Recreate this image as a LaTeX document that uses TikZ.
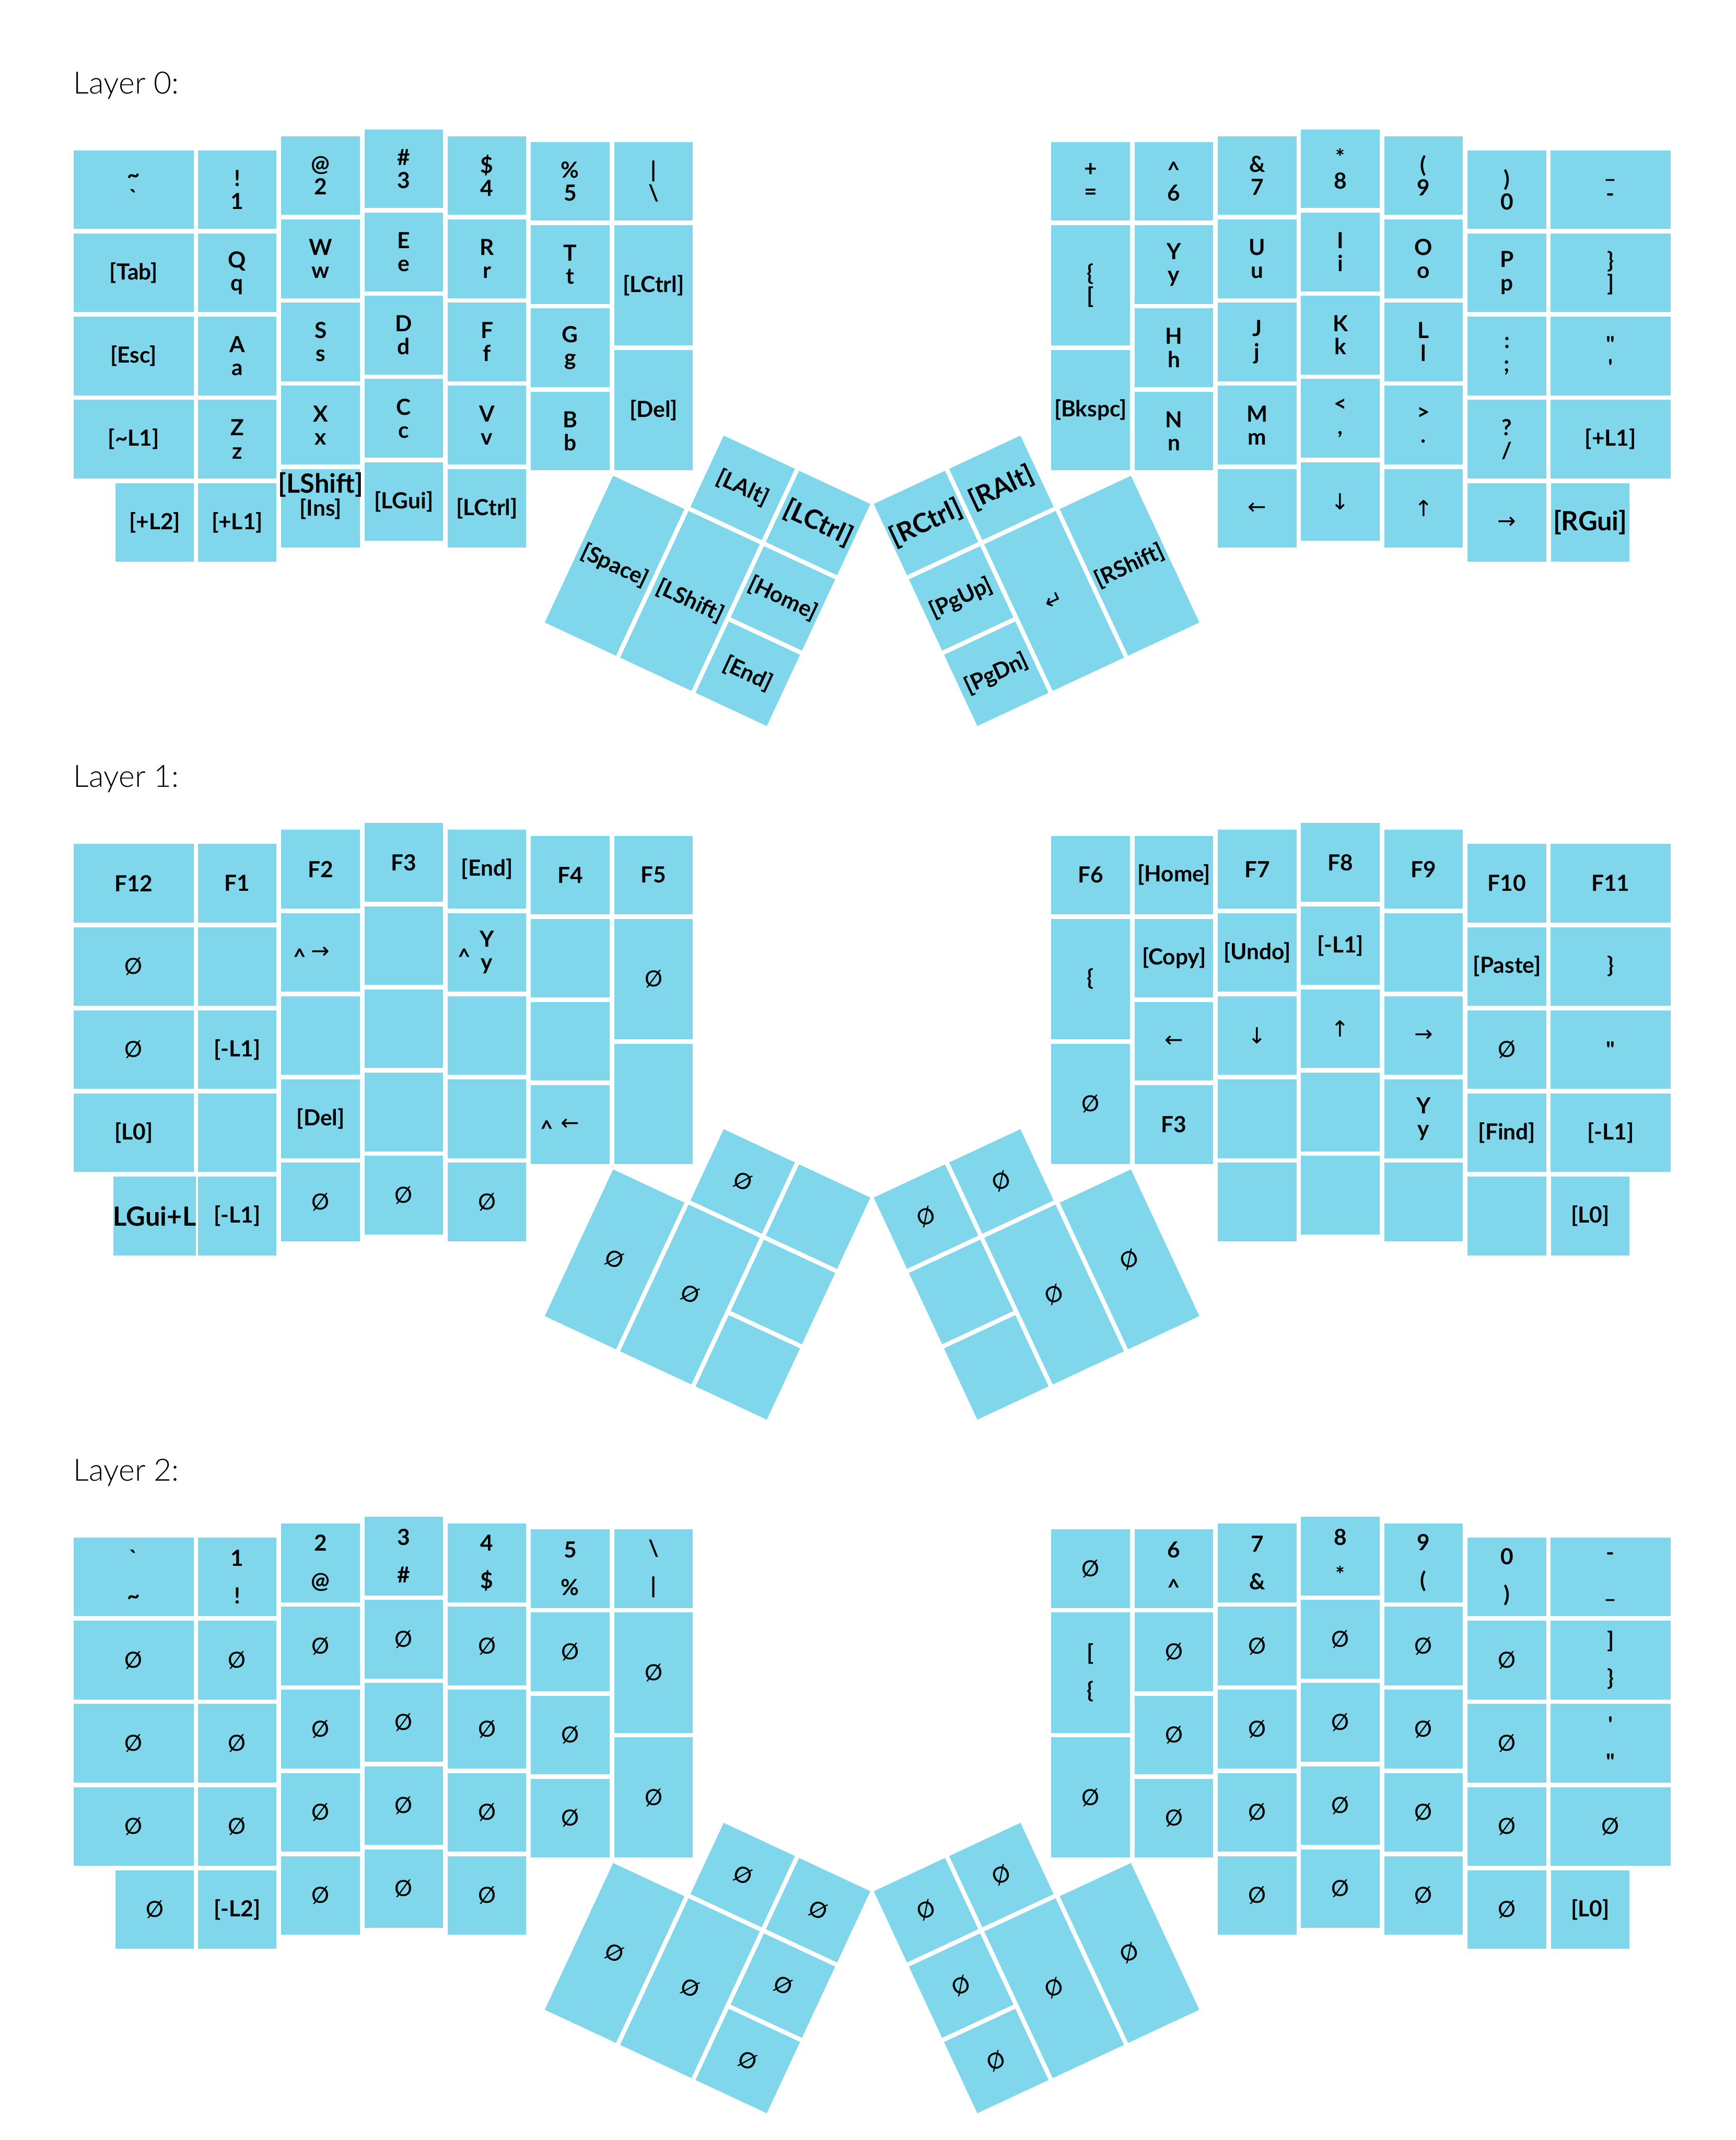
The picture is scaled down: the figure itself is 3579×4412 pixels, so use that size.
\documentclass[tikz,border=0pt]{standalone}
\usepackage{fontspec}
\setmainfont{Lato}
\newfontfamily\arrowfont{DejaVu Sans}
\IfFontExistsTF{Lato Light}{\newfontfamily\headfont{Lato Light}}{\newfontfamily\headfont{Lato}}
\definecolor{keyblue}{RGB}{128,214,234}

\newcommand{\keyfont}{\bfseries\fontsize{13}{13.5}\selectfont}
\newcommand{\bigtxt}{\fontsize{15.5}{16}\selectfont}
\newcommand{\arw}[1]{{\arrowfont\mdseries #1}}
\newcommand{\nokey}{{\mdseries Ø}}

% column centres of the left half and column tops (px)
\def\colx{{275.5,489,661,832.5,1004,1175.5,1347.5}}
\def\coltop{{310,310,281,267,281,293,293}}

% key of the left half: [style]{name}{column}{row}{label}
\newcommand{\keyL}[5][]{%
  \pgfmathsetmacro{\kx}{\colx[#3]}%
  \pgfmathsetmacro{\ky}{\coltop[#3]+#4*171.5+81}%
  \node[kbkey,#1] (#2) at (\kx,\ky) {#5};}
% key of the right half (mirror of the left one)
\newcommand{\keyR}[5][]{%
  \pgfmathsetmacro{\kx}{3596-\colx[6-#3]}%
  \pgfmathsetmacro{\ky}{\coltop[6-#3]+#4*171.5+81}%
  \node[kbkey,#1] (#2) at (\kx,\ky) {#5};}

% thumb clusters, drawn in the rotated frame
\newcommand{\thumbL}[7]{%
  \node[kbkey] (#1alt) at (257.25,85.75) {#2};
  \node[kbkey] (#1ctrl) at (428.75,85.75) {#3};
  \node[kbkey,twou] (#1space) at (85.75,343) {#4};
  \node[kbkey,twou] (#1shift) at (257.25,343) {#5};
  \node[kbkey] (#1home) at (428.75,257.25) {#6};
  \node[kbkey] (#1end) at (428.75,428.75) {#7};}
\newcommand{\thumbR}[7]{%
  \node[kbkey] (#1alt) at (-257.25,85.75) {#2};
  \node[kbkey] (#1ctrl) at (-428.75,85.75) {#3};
  \node[kbkey,twou] (#1shift) at (-85.75,343) {#4};
  \node[kbkey,twou] (#1enter) at (-257.25,343) {#5};
  \node[kbkey] (#1pgup) at (-428.75,257.25) {#6};
  \node[kbkey] (#1pgdn) at (-428.75,428.75) {#7};}

\begin{document}
\begin{tikzpicture}[x=0.01cm, y=-0.01cm,
    kbkey/.style={fill=keyblue, inner sep=0pt, minimum width=1.62cm, minimum height=1.62cm, align=center, font=\keyfont},
    wideu/.style={minimum width=2.4775cm},
    tallu/.style={minimum height=2.4775cm},
    twou/.style={minimum height=3.335cm},
    loose/.style={font=\bfseries\fontsize{13}{22}\selectfont},
    kbtext/.style={inner sep=0pt, align=center, font=\keyfont},
    caret/.style={anchor=base west, inner sep=0pt, font=\keyfont},
    head/.style={anchor=base west, inner sep=0pt, font=\headfont\fontsize{18}{20}\selectfont}]

  % 0. page
  \fill[white] (0,0) rectangle (3579,4412);
  \useasboundingbox (0,0) rectangle (3579,4412);

  % 1. Layer 0
  \node[head] (head0) at (151,193) {Layer 0:};
  % left half
  \keyL[wideu]{k0L00}{0}{0}{\textasciitilde\\\textasciigrave}
  \keyL[wideu]{k0L01}{0}{1}{[Tab]}
  \keyL[wideu]{k0L02}{0}{2}{[Esc]}
  \keyL[wideu]{k0L03}{0}{3}{[\textasciitilde L1]}
  \keyL[xshift=-1.7cm]{k0L04}{1}{4}{[+L2]}
  \keyL{k0L10}{1}{0}{!\\1}
  \keyL{k0L11}{1}{1}{Q\\q}
  \keyL{k0L12}{1}{2}{A\\a}
  \keyL{k0L13}{1}{3}{Z\\z}
  \keyL{k0L14}{1}{4}{[+L1]}
  \keyL{k0L20}{2}{0}{@\\2}
  \keyL{k0L21}{2}{1}{W\\w}
  \keyL{k0L22}{2}{2}{S\\s}
  \keyL{k0L23}{2}{3}{X\\x}
  \keyL{k0L24}{2}{4}{}
  \node[kbtext] (t0Lins) at ([yshift=0.26cm]k0L24.center) {{\bigtxt [LShift]}\\{}[Ins]};
  \keyL{k0L30}{3}{0}{\#\\3}
  \keyL{k0L31}{3}{1}{E\\e}
  \keyL{k0L32}{3}{2}{D\\d}
  \keyL{k0L33}{3}{3}{C\\c}
  \keyL{k0L34}{3}{4}{[LGui]}
  \keyL{k0L40}{4}{0}{\$\\4}
  \keyL{k0L41}{4}{1}{R\\r}
  \keyL{k0L42}{4}{2}{F\\f}
  \keyL{k0L43}{4}{3}{V\\v}
  \keyL{k0L44}{4}{4}{[LCtrl]}
  \keyL{k0L50}{5}{0}{\%\\5}
  \keyL{k0L51}{5}{1}{T\\t}
  \keyL{k0L52}{5}{2}{G\\g}
  \keyL{k0L53}{5}{3}{B\\b}
  \keyL{k0L60}{6}{0}{\textbar\\\textbackslash}
  \keyL[tallu]{k0L61}{6}{1.25}{[LCtrl]}
  \keyL[tallu]{k0L62}{6}{2.75}{[Del]}
  % right half
  \keyR{k0R00}{0}{0}{+\\=}
  \keyR[tallu]{k0R01}{0}{1.25}{\{\\{}[}
  \keyR[tallu]{k0R02}{0}{2.75}{[Bkspc]}
  \keyR{k0R10}{1}{0}{\textasciicircum\\6}
  \keyR{k0R11}{1}{1}{Y\\y}
  \keyR{k0R12}{1}{2}{H\\h}
  \keyR{k0R13}{1}{3}{N\\n}
  \keyR{k0R20}{2}{0}{\&\\7}
  \keyR{k0R21}{2}{1}{U\\u}
  \keyR{k0R22}{2}{2}{J\\j}
  \keyR{k0R23}{2}{3}{M\\m}
  \keyR{k0R24}{2}{4}{\arw{←}}
  \keyR{k0R30}{3}{0}{*\\8}
  \keyR{k0R31}{3}{1}{I\\i}
  \keyR{k0R32}{3}{2}{K\\k}
  \keyR{k0R33}{3}{3}{\textless\\,}
  \keyR{k0R34}{3}{4}{\arw{↓}}
  \keyR{k0R40}{4}{0}{(\\9}
  \keyR{k0R41}{4}{1}{O\\o}
  \keyR{k0R42}{4}{2}{L\\l}
  \keyR{k0R43}{4}{3}{\textgreater\\.}
  \keyR{k0R44}{4}{4}{\arw{↑}}
  \keyR{k0R50}{5}{0}{)\\0}
  \keyR{k0R51}{5}{1}{P\\p}
  \keyR{k0R52}{5}{2}{:\\;}
  \keyR{k0R53}{5}{3}{?\\/}
  \keyR{k0R54}{5}{4}{\arw{→}}
  \keyR[wideu]{k0R60}{6}{0}{\_\\-}
  \keyR[wideu]{k0R61}{6}{1}{\}\\]}
  \keyR[wideu]{k0R62}{6}{2}{\textquotedbl\\\textquotesingle}
  \keyR[wideu]{k0R63}{6}{3}{[+L1]}
  \keyR[xshift=1.715cm]{k0R64}{5}{4}{{\bigtxt [RGui]}}
  % thumbs
  \begin{scope}[shift={(1334.4,819.3)}, rotate=-25, transform shape]
    \thumbL{t0L}{[LAlt]}{{\bigtxt [LCtrl]}}{[Space]}{[LShift]}{[Home]}{[End]}
  \end{scope}
  \begin{scope}[shift={(2261.6,819.3)}, rotate=25, transform shape]
    \thumbR{t0R}{{\bigtxt [RAlt]}}{{\bigtxt [RCtrl]}}{[RShift]}{\arw{↵}}{[PgUp]}{[PgDn]}
  \end{scope}

  % 2. Layer 1
  \begin{scope}[shift={(0,1430)}]
    \node[head] (head1) at (151,193) {Layer 1:};
    % left half
    \keyL[wideu]{k1L00}{0}{0}{F12}
    \keyL[wideu]{k1L01}{0}{1}{\nokey}
    \keyL[wideu]{k1L02}{0}{2}{\nokey}
    \keyL[wideu]{k1L03}{0}{3}{[L0]}
    \keyL[xshift=-1.7cm]{k1L04}{1}{4}{{\bigtxt LGui+L}}
    \keyL{k1L10}{1}{0}{F1}
    \keyL{k1L11}{1}{1}{}
    \keyL{k1L12}{1}{2}{[-L1]}
    \keyL{k1L13}{1}{3}{}
    \keyL{k1L14}{1}{4}{[-L1]}
    \keyL{k1L20}{2}{0}{F2}
    \keyL{k1L21}{2}{1}{\arw{→}}
    \keyL{k1L22}{2}{2}{}
    \keyL{k1L23}{2}{3}{[Del]}
    \keyL{k1L24}{2}{4}{\nokey}
    \keyL{k1L30}{3}{0}{F3}
    \keyL{k1L31}{3}{1}{}
    \keyL{k1L32}{3}{2}{}
    \keyL{k1L33}{3}{3}{}
    \keyL{k1L34}{3}{4}{\nokey}
    \keyL{k1L40}{4}{0}{[End]}
    \keyL{k1L41}{4}{1}{Y\\y}
    \keyL{k1L42}{4}{2}{}
    \keyL{k1L43}{4}{3}{}
    \keyL{k1L44}{4}{4}{\nokey}
    \keyL{k1L50}{5}{0}{F4}
    \keyL{k1L51}{5}{1}{}
    \keyL{k1L52}{5}{2}{}
    \keyL{k1L53}{5}{3}{\arw{←}}
    \keyL{k1L60}{6}{0}{F5}
    \keyL[tallu]{k1L61}{6}{1.25}{\nokey}
    \keyL[tallu]{k1L62}{6}{2.75}{}
    % ctrl marks at the left of three keys
    \node[caret] (c1L21) at ([xshift=0.25cm,yshift=-0.25cm]k1L21.west) {\textasciicircum};
    \node[caret] (c1L41) at ([xshift=0.21cm,yshift=-0.25cm]k1L41.west) {\textasciicircum};
    \node[caret] (c1L53) at ([xshift=0.2cm,yshift=-0.25cm]k1L53.west) {\textasciicircum};
    % right half
    \keyR{k1R00}{0}{0}{F6}
    \keyR[tallu]{k1R01}{0}{1.25}{\{}
    \keyR[tallu]{k1R02}{0}{2.75}{\nokey}
    \keyR{k1R10}{1}{0}{[Home]}
    \keyR{k1R11}{1}{1}{[Copy]}
    \keyR{k1R12}{1}{2}{\arw{←}}
    \keyR{k1R13}{1}{3}{F3}
    \keyR{k1R20}{2}{0}{F7}
    \keyR{k1R21}{2}{1}{[Undo]}
    \keyR{k1R22}{2}{2}{\arw{↓}}
    \keyR{k1R23}{2}{3}{}
    \keyR{k1R24}{2}{4}{}
    \keyR{k1R30}{3}{0}{F8}
    \keyR{k1R31}{3}{1}{[-L1]}
    \keyR{k1R32}{3}{2}{\arw{↑}}
    \keyR{k1R33}{3}{3}{}
    \keyR{k1R34}{3}{4}{}
    \keyR{k1R40}{4}{0}{F9}
    \keyR{k1R41}{4}{1}{}
    \keyR{k1R42}{4}{2}{\arw{→}}
    \keyR{k1R43}{4}{3}{Y\\y}
    \keyR{k1R44}{4}{4}{}
    \keyR{k1R50}{5}{0}{F10}
    \keyR{k1R51}{5}{1}{[Paste]}
    \keyR{k1R52}{5}{2}{\nokey}
    \keyR{k1R53}{5}{3}{[Find]}
    \keyR{k1R54}{5}{4}{}
    \keyR[wideu]{k1R60}{6}{0}{F11}
    \keyR[wideu]{k1R61}{6}{1}{\}}
    \keyR[wideu]{k1R62}{6}{2}{\textquotedbl}
    \keyR[wideu]{k1R63}{6}{3}{[-L1]}
    \keyR[xshift=1.715cm]{k1R64}{5}{4}{[L0]}
    % thumbs
    \begin{scope}[shift={(1334.4,819.3)}, rotate=-25, transform shape]
      \thumbL{t1L}{\nokey}{}{\nokey}{\nokey}{}{}
    \end{scope}
    \begin{scope}[shift={(2261.6,819.3)}, rotate=25, transform shape]
      \thumbR{t1R}{\nokey}{\nokey}{\nokey}{\nokey}{}{}
    \end{scope}
  \end{scope}

  % 3. Layer 2
  \begin{scope}[shift={(0,2860)}]
    \node[head] (head2) at (151,193) {Layer 2:};
    % left half
    \keyL[wideu,loose]{k2L00}{0}{0}{\textasciigrave\\\textasciitilde}
    \keyL[wideu]{k2L01}{0}{1}{\nokey}
    \keyL[wideu]{k2L02}{0}{2}{\nokey}
    \keyL[wideu]{k2L03}{0}{3}{\nokey}
    \keyL[xshift=-1.7cm]{k2L04}{1}{4}{\nokey}
    \keyL[loose]{k2L10}{1}{0}{1\\!}
    \keyL{k2L11}{1}{1}{\nokey}
    \keyL{k2L12}{1}{2}{\nokey}
    \keyL{k2L13}{1}{3}{\nokey}
    \keyL{k2L14}{1}{4}{[-L2]}
    \keyL[loose]{k2L20}{2}{0}{2\\@}
    \keyL{k2L21}{2}{1}{\nokey}
    \keyL{k2L22}{2}{2}{\nokey}
    \keyL{k2L23}{2}{3}{\nokey}
    \keyL{k2L24}{2}{4}{\nokey}
    \keyL[loose]{k2L30}{3}{0}{3\\\#}
    \keyL{k2L31}{3}{1}{\nokey}
    \keyL{k2L32}{3}{2}{\nokey}
    \keyL{k2L33}{3}{3}{\nokey}
    \keyL{k2L34}{3}{4}{\nokey}
    \keyL[loose]{k2L40}{4}{0}{4\\\$}
    \keyL{k2L41}{4}{1}{\nokey}
    \keyL{k2L42}{4}{2}{\nokey}
    \keyL{k2L43}{4}{3}{\nokey}
    \keyL{k2L44}{4}{4}{\nokey}
    \keyL[loose]{k2L50}{5}{0}{5\\\%}
    \keyL{k2L51}{5}{1}{\nokey}
    \keyL{k2L52}{5}{2}{\nokey}
    \keyL{k2L53}{5}{3}{\nokey}
    \keyL[loose]{k2L60}{6}{0}{\textbackslash\\\textbar}
    \keyL[tallu]{k2L61}{6}{1.25}{\nokey}
    \keyL[tallu]{k2L62}{6}{2.75}{\nokey}
    % right half
    \keyR{k2R00}{0}{0}{\nokey}
    \keyR[tallu,loose]{k2R01}{0}{1.25}{[\\\{}
    \keyR[tallu]{k2R02}{0}{2.75}{\nokey}
    \keyR[loose]{k2R10}{1}{0}{6\\\textasciicircum}
    \keyR{k2R11}{1}{1}{\nokey}
    \keyR{k2R12}{1}{2}{\nokey}
    \keyR{k2R13}{1}{3}{\nokey}
    \keyR[loose]{k2R20}{2}{0}{7\\\&}
    \keyR{k2R21}{2}{1}{\nokey}
    \keyR{k2R22}{2}{2}{\nokey}
    \keyR{k2R23}{2}{3}{\nokey}
    \keyR{k2R24}{2}{4}{\nokey}
    \keyR[loose]{k2R30}{3}{0}{8\\*}
    \keyR{k2R31}{3}{1}{\nokey}
    \keyR{k2R32}{3}{2}{\nokey}
    \keyR{k2R33}{3}{3}{\nokey}
    \keyR{k2R34}{3}{4}{\nokey}
    \keyR[loose]{k2R40}{4}{0}{9\\(}
    \keyR{k2R41}{4}{1}{\nokey}
    \keyR{k2R42}{4}{2}{\nokey}
    \keyR{k2R43}{4}{3}{\nokey}
    \keyR{k2R44}{4}{4}{\nokey}
    \keyR[loose]{k2R50}{5}{0}{0\\)}
    \keyR{k2R51}{5}{1}{\nokey}
    \keyR{k2R52}{5}{2}{\nokey}
    \keyR{k2R53}{5}{3}{\nokey}
    \keyR{k2R54}{5}{4}{\nokey}
    \keyR[wideu,loose]{k2R60}{6}{0}{-\\\_}
    \keyR[wideu,loose]{k2R61}{6}{1}{]\\\}}
    \keyR[wideu,loose]{k2R62}{6}{2}{\textquotesingle\\\textquotedbl}
    \keyR[wideu]{k2R63}{6}{3}{\nokey}
    \keyR[xshift=1.715cm]{k2R64}{5}{4}{[L0]}
    % thumbs
    \begin{scope}[shift={(1334.4,819.3)}, rotate=-25, transform shape]
      \thumbL{t2L}{\nokey}{\nokey}{\nokey}{\nokey}{\nokey}{\nokey}
    \end{scope}
    \begin{scope}[shift={(2261.6,819.3)}, rotate=25, transform shape]
      \thumbR{t2R}{\nokey}{\nokey}{\nokey}{\nokey}{\nokey}{\nokey}
    \end{scope}
  \end{scope}
\end{tikzpicture}
\end{document}
